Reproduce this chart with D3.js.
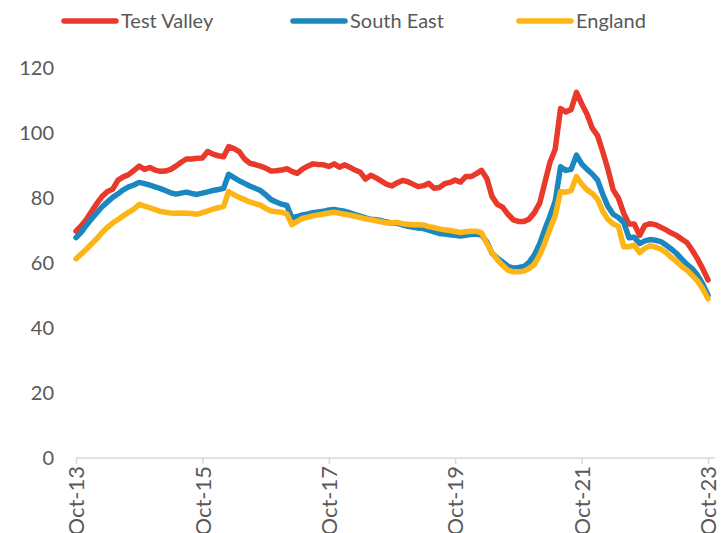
<!DOCTYPE html>
<html>
<head>
<meta charset="utf-8">
<script src="https://cdn.jsdelivr.net/npm/d3@7"></script>
<style>
  body { margin: 0; background: #fff; }
  svg { display: block; font-family: Lato, "Open Sans", sans-serif; }
</style>
</head>
<body>
<div id="chart"></div>
<script>
// monthly index values, Oct-13 .. Oct-23
const startMonth = new Date(2013, 9, 1);
const seriesNames = ["Test Valley", "South East", "England"];
const seriesColors = ["#e8392b", "#1b87c1", "#fdb515"];

const testValley = [
  69.8, 71.5, 73.5, 76, 78.5, 80.5, 82, 82.7, 85.5, 86.5, 87.2, 88.5,
  89.8, 88.8, 89.4, 88.6, 88.2, 88.3, 88.8, 89.8, 91, 92, 92, 92.2,
  92.3, 94.3, 93.5, 93, 92.7, 95.8, 95.2, 94.3, 92, 90.7, 90.3, 89.8,
  89.2, 88.3, 88.4, 88.6, 89, 88.2, 87.6, 88.9, 89.8, 90.5, 90.3, 90.2,
  89.7, 90.5, 89.5, 90.2, 89.4, 88.6, 87.9, 85.8, 87, 86.2, 85.2, 84.2,
  83.7, 84.7, 85.4, 85, 84.2, 83.5, 83.8, 84.5, 83, 83.2, 84.4, 84.8,
  85.5, 84.9, 86.6, 86.6, 87.5, 88.5, 86, 80.5, 78, 77.2, 75, 73.3,
  72.8, 72.8, 73.5, 75.5, 78.5, 84.5, 91, 95, 107.5, 106.5, 107.2, 112.5,
  109, 105.8, 101.5, 99.2, 94, 89, 82.5, 80, 75.3, 72, 72, 68.5,
  71.6, 72.1, 71.8, 71, 70.2, 69.3, 68.5, 67.4, 66.3, 64, 61.3, 58.2,
  54.8
];
const southEast = [
  67.8, 69.5, 71.7, 73.7, 75.6, 77.3, 78.8, 80.2, 81.3, 82.5, 83.4, 84,
  84.8, 84.4, 84, 83.4, 82.9, 82.3, 81.6, 81.2, 81.5, 81.8, 81.4, 81.1,
  81.5, 81.9, 82.3, 82.6, 83, 87.3, 86.3, 85.3, 84.5, 83.7, 83, 82.3,
  81, 79.5, 78.8, 78.1, 77.7, 73.9, 74.3, 74.8, 75.1, 75.5, 75.7, 75.9,
  76.3, 76.5, 76.2, 75.9, 75.4, 74.9, 74.4, 73.9, 73.5, 73.3, 73, 72.6,
  72.3, 72.2, 71.7, 71.3, 71, 70.8, 70.6, 70.1, 69.6, 69.1, 68.9, 68.7,
  68.5, 68.3, 68.5, 68.8, 68.9, 68.6, 66.5, 63, 61.5, 60.3, 59, 58.4,
  58.6, 58.9, 60.2, 62.5, 66, 70.2, 74.5, 79, 89.6, 88.5, 88.8, 93.2,
  90.5, 88.8, 87.4, 85.5, 81, 77.5, 75, 74, 72.5, 67.8, 67.9, 66,
  66.8, 67.2, 67, 66.6, 65.5, 64.4, 63, 61.3, 59.6, 58.3, 56.3, 53.5,
  50
];
const england = [
  61.3, 62.8, 64.3, 66, 67.6, 69.4, 71, 72.3, 73.4, 74.5, 75.6, 76.6,
  78, 77.5, 77, 76.4, 75.9, 75.6, 75.4, 75.3, 75.4, 75.3, 75.2, 75,
  75.5, 76, 76.6, 77, 77.4, 82, 81, 80.2, 79.5, 78.8, 78.3, 77.8,
  76.8, 76, 75.8, 75.6, 75.1, 71.8, 72.8, 73.7, 74.1, 74.5, 74.8, 75.1,
  75.4, 75.6, 75.3, 75, 74.7, 74.4, 74, 73.6, 73.3, 73, 72.7, 72.3,
  72.4, 72.5, 72.1, 71.9, 71.8, 71.8, 71.7, 71.2, 70.9, 70.5, 70.2, 70,
  69.7, 69.4, 69.6, 69.8, 69.8, 69.3, 66, 63.2, 61, 59.3, 57.8, 57.3,
  57.3, 57.5, 58.3, 59.6, 62.5, 66, 70.5, 74.5, 82, 81.8, 82.3, 86.6,
  84.3, 82.5, 81.4, 79.6, 75.8, 73.5, 72, 71.3, 65, 65, 65.5, 63.2,
  64.5, 65.3, 64.9, 64.3, 63.2, 61.8, 60.5, 59, 57.8, 56.2, 54.5, 52,
  49
];
const yTicks = [0, 20, 40, 60, 80, 100, 120];
const xTickYears = [2013, 2015, 2017, 2019, 2021, 2023];

const width = 728, height = 533;

const svg = d3.select("#chart")
  .append("svg")
  .attr("width", width)
  .attr("height", height);

const months = testValley.map((d, i) => d3.timeMonth.offset(startMonth, i));

const xScale = d3.scaleTime()
  .domain([months[0], months[months.length - 1]])
  .range([76, 708]);

const yScale = d3.scaleLinear()
  .domain([0, 120])
  .range([458, 68]);

// y axis labels only
const yAxisGroup = svg.append("g")
  .attr("transform", "translate(56, 0)")
  .call(d3.axisLeft(yScale).tickValues(yTicks).tickSize(0).tickPadding(2));
yAxisGroup.select(".domain").remove();
yAxisGroup.selectAll("text")
  .style("font-size", "20px")
  .style("font-family", "Lato, sans-serif")
  .attr("fill", "#595959");

// x axis
const xAxisGroup = svg.append("g")
  .attr("transform", `translate(0, ${yScale(0)})`)
  .call(d3.axisBottom(xScale)
    .tickValues(xTickYears.map(y => new Date(y, 9, 1)))
    .tickFormat(d3.timeFormat("%b-%y"))
    .tickSize(6)
    .tickSizeOuter(0));
xAxisGroup.select(".domain").remove();
xAxisGroup.insert("line", ":first-child")
  .attr("x1", xScale.range()[0])
  .attr("x2", xScale.range()[1] + 7)
  .attr("stroke", "#d9d9d9")
  .attr("stroke-width", 1.5);
xAxisGroup.selectAll(".tick line")
  .attr("stroke", "#d9d9d9")
  .attr("stroke-width", 1.5);
xAxisGroup.selectAll(".tick text")
  .attr("transform", "rotate(-90)")
  .attr("x", -8)
  .attr("y", 0)
  .attr("dy", "0.35em")
  .style("text-anchor", "end")
  .style("font-size", "22px")
  .style("font-family", "Lato, sans-serif")
  .attr("fill", "#595959");

// lines
const allSeries = [testValley, southEast, england];
const line = d3.line()
  .x((d, i) => xScale(months[i]))
  .y(d => yScale(d));

svg.selectAll(".series")
  .data(allSeries)
  .enter()
  .append("path")
  .attr("class", "series")
  .attr("d", d => line(d))
  .attr("fill", "none")
  .attr("stroke", (d, i) => seriesColors[i])
  .attr("stroke-width", 5.5)
  .attr("stroke-linejoin", "round")
  .attr("stroke-linecap", "round");

// legend
const legendX = [62, 291, 517];
const legend = svg.selectAll(".legend-item")
  .data(seriesNames)
  .enter()
  .append("g")
  .attr("class", "legend-item")
  .attr("transform", (d, i) => `translate(${legendX[i]}, 21)`);

legend.append("line")
  .attr("x1", 2)
  .attr("x2", 54)
  .attr("stroke", (d, i) => seriesColors[i])
  .attr("stroke-width", 5.5)
  .attr("stroke-linecap", "round");

legend.append("text")
  .attr("x", 59)
  .attr("dy", "0.35em")
  .style("font-size", "20px")
  .attr("fill", "#595959")
  .text(d => d);
</script>
</body>
</html>
